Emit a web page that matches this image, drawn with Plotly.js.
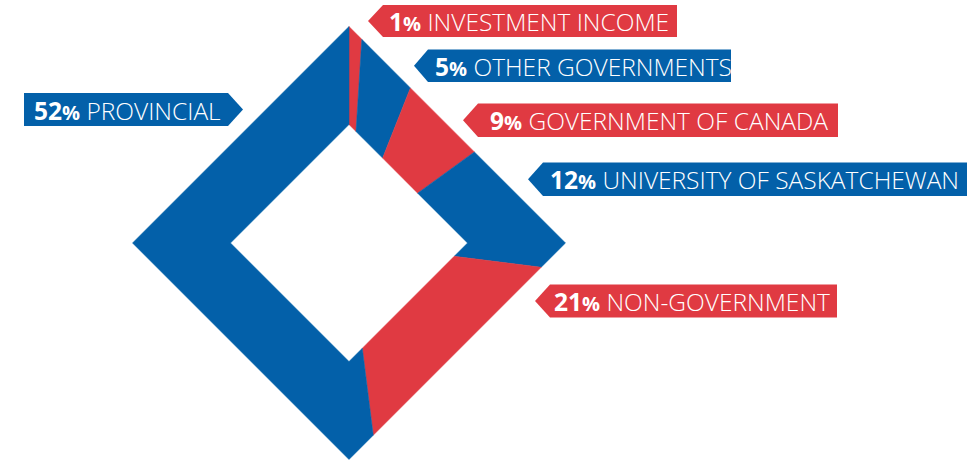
<!DOCTYPE html>
<html>
<head>
<meta charset="utf-8">
<script src="https://cdn.plot.ly/plotly-3.0.1.min.js"></script>
<style>html,body{margin:0;padding:0;background:#fff;}#chart{width:971px;height:460px;}</style>
</head>
<body>
<div id="chart"></div>
<script>
// ---- data ----
const categories = ['INVESTMENT INCOME', 'OTHER GOVERNMENTS', 'GOVERNMENT OF CANADA', 'UNIVERSITY OF SASKATCHEWAN', 'NON-GOVERNMENT', 'PROVINCIAL'];
const shares = [1, 5, 9, 12, 21, 52];

// ---- style ----
const BLUE = '#0360A9';
const RED = '#E03A42';
const sliceColors = [RED, BLUE, RED, BLUE, RED, BLUE];
const FONT = 'Open Sans, Noto Sans, sans-serif';

// diamond geometry (pixel-like data units, y down)
const CX = 349, CY = 243, R_OUT = 216.5, R_IN = 118.5;

function diamondPoint(thetaDeg, R) {
  const t = thetaDeg * Math.PI / 180;
  const s = Math.sin(t), c = Math.cos(t);
  const k = R / (Math.abs(s) + Math.abs(c));
  return [CX + k * s, CY - k * c];
}
function edgePath(a0, a1, R) {
  const pts = [diamondPoint(a0, R)];
  const verts = [0, 90, 180, 270, 360];
  for (const v of verts) if (v > a0 + 1e-9 && v < a1 - 1e-9) pts.push(diamondPoint(v, R));
  pts.push(diamondPoint(a1, R));
  return pts;
}

const total = shares.reduce((a, b) => a + b, 0);
const traces = [];
let cum = 0;
shares.forEach((v, i) => {
  const a0 = cum / total * 360;
  cum += v;
  const a1 = cum / total * 360;
  const outer = edgePath(a0, a1, R_OUT);
  const inner = edgePath(a0, a1, R_IN).reverse();
  const poly = outer.concat(inner);
  poly.push(poly[0]);
  traces.push({
    type: 'scatter', mode: 'lines', fill: 'toself',
    x: poly.map(p => p[0]), y: poly.map(p => p[1]),
    fillcolor: sliceColors[i], line: {color: sliceColors[i], width: 0.5},
    hoverinfo: 'text', text: v + '% ' + categories[i], showlegend: false
  });
});

// label boxes (layout): arrow on left unless side === 'right'
const boxes = [
  {tip: 368, body: 383, right: 677, top: 5, bot: 37, tx: 387},
  {tip: 414, body: 428, right: 731, top: 49.5, bot: 82, tx: 433},
  {tip: 463, body: 478, right: 838, top: 103.5, bot: 137, tx: 488},
  {tip: 528, body: 543, right: 967, top: 162.5, bot: 196, tx: 548},
  {tip: 535, body: 550, right: 837, top: 284.5, bot: 317.5, tx: 552},
  {side: 'right', left: 24, body: 228, tip: 243, top: 93, bot: 126, tx: 32}
];

const shapes = [], annotations = [];
boxes.forEach((b, i) => {
  const mid = (b.top + b.bot) / 2;
  let path;
  if (b.side === 'right') {
    path = `M${b.left},${b.top} L${b.body},${b.top} L${b.tip},${mid} L${b.body},${b.bot} L${b.left},${b.bot} Z`;
  } else {
    path = `M${b.tip},${mid} L${b.body},${b.top} L${b.right},${b.top} L${b.right},${b.bot} L${b.body},${b.bot} Z`;
  }
  shapes.push({type: 'path', xref: 'x', yref: 'y', path: path, fillcolor: sliceColors[i], line: {width: 0}, layer: 'below'});
  annotations.push({
    xref: 'x', yref: 'y', x: b.tx, y: mid + 0.5, xanchor: 'left', yanchor: 'middle', showarrow: false,
    text: `<b>${shares[i]}</b><b><span style="font-size:20px">%</span></b> ${categories[i]}`,
    font: {family: FONT, size: 24.5, color: '#ffffff', weight: 300}
  });
});

const layout = {
  width: 971, height: 460,
  margin: {l: 0, r: 0, t: 0, b: 0},
  paper_bgcolor: '#ffffff', plot_bgcolor: '#ffffff',
  xaxis: {range: [0, 971], visible: false, fixedrange: true},
  yaxis: {range: [460, 0], visible: false, fixedrange: true},
  shapes: shapes, annotations: annotations, showlegend: false
};

Plotly.newPlot('chart', traces, layout, {displayModeBar: false, staticPlot: true});
</script>
</body>
</html>
